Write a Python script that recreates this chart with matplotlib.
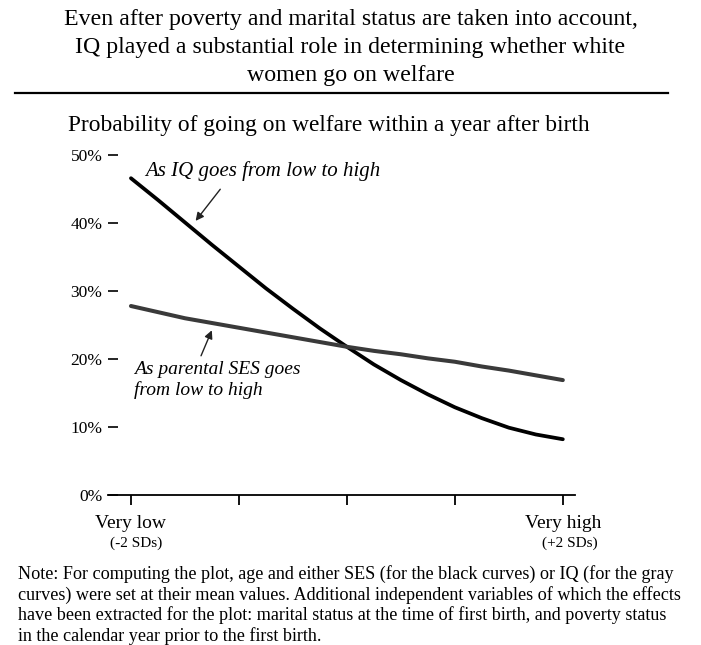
import matplotlib
matplotlib.use("Agg")
import matplotlib.pyplot as plt

plt.rcParams['font.family'] = ['Liberation Serif', 'DejaVu Serif']

sd_pos = [-2, -1.75, -1.5, -1.25, -1, -0.75, -0.5, -0.25, 0,
          0.25, 0.5, 0.75, 1, 1.25, 1.5, 1.75, 2]
iq_pct = [46.6, 43.4, 40.1, 36.8, 33.6, 30.4, 27.4, 24.5, 21.8,
          19.2, 16.9, 14.8, 12.9, 11.3, 9.9, 8.9, 8.2]
ses_pct = [27.8, 26.9, 26.0, 25.3, 24.6, 23.9, 23.2, 22.5, 21.8,
           21.2, 20.7, 20.1, 19.6, 18.9, 18.3, 17.6, 16.9]

y_ticks = [0, 10, 20, 30, 40, 50]
y_labels = ["0%", "10%", "20%", "30%", "40%", "50%"]
x_ticks = [-2, -1, 0, 1, 2]

title = ("Even after poverty and marital status are taken into account,\n"
         "IQ played a substantial role in determining whether white\n"
         "women go on welfare")
subtitle = "Probability of going on welfare within a year after birth"
note = ("Note: For computing the plot, age and either SES (for the black curves) or IQ (for the gray\n"
        "curves) were set at their mean values. Additional independent variables of which the effects\n"
        "have been extracted for the plot: marital status at the time of first birth, and poverty status\n"
        "in the calendar year prior to the first birth.")

fig = plt.figure(figsize=(7.01, 6.45), dpi=100)
ax = fig.add_axes([0.154, 0.2326, 0.666, 0.548])

ax.plot(sd_pos, iq_pct, color='black', lw=2.7, solid_capstyle='round')
ax.plot(sd_pos, ses_pct, color='#3a3a3a', lw=2.9, solid_capstyle='round')

ax.set_xlim(-2.213, 2.111)
ax.set_ylim(0, 52)
for s in ['top', 'right', 'left']:
    ax.spines[s].set_visible(False)
ax.spines['bottom'].set_linewidth(1.3)

ax.set_yticks(y_ticks)
ax.set_yticklabels(y_labels, fontsize=12.5)
ax.tick_params(axis='y', direction='in', length=7, width=1.2, pad=4)
ax.set_xticks(x_ticks)
ax.set_xticklabels([])
ax.tick_params(axis='x', direction='out', length=7, width=1.3)

# x-Beschriftung
ax.text(-2, -4.2, "Very low", ha='center', va='center', fontsize=14)
ax.text(-1.95, -7.1, "(-2 SDs)", ha='center', va='center', fontsize=11)
ax.text(2, -4.2, "Very high", ha='center', va='center', fontsize=14)
ax.text(2.06, -7.1, "(+2 SDs)", ha='center', va='center', fontsize=11)

# Pfeile und Beschriftungen
ax.annotate("", xy=(-1.417, 40.0), xytext=(-1.157, 45.3),
            arrowprops=dict(arrowstyle='-|>', color='#222222', lw=1.0, mutation_scale=12))
ax.text(-1.87, 47.6, "As IQ goes from low to high", style='italic', fontsize=15,
        ha='left', va='center')
ax.annotate("", xy=(-1.241, 24.6), xytext=(-1.361, 20.1),
            arrowprops=dict(arrowstyle='-|>', color='#222222', lw=1.0, mutation_scale=12))
ax.text(-1.97, 16.9, "As parental SES goes\nfrom low to high", style='italic', fontsize=14,
        ha='left', va='center', linespacing=1.2)

fig.text(0.5, 1 - 47.5 / 645, title, ha='center', va='center', fontsize=17.2,
         linespacing=1.42)
fig.add_artist(plt.Line2D([15 / 701, 668 / 701], [1 - 93 / 645, 1 - 93 / 645],
                          color='black', lw=1.6))
fig.text(68 / 701, 1 - 125 / 645, subtitle, ha='left', va='center', fontsize=16.8)
fig.text(18 / 701, 1 - 605 / 645, note, ha='left', va='center', fontsize=13.1,
         linespacing=1.2)

fig.savefig("out.png", dpi=100)
